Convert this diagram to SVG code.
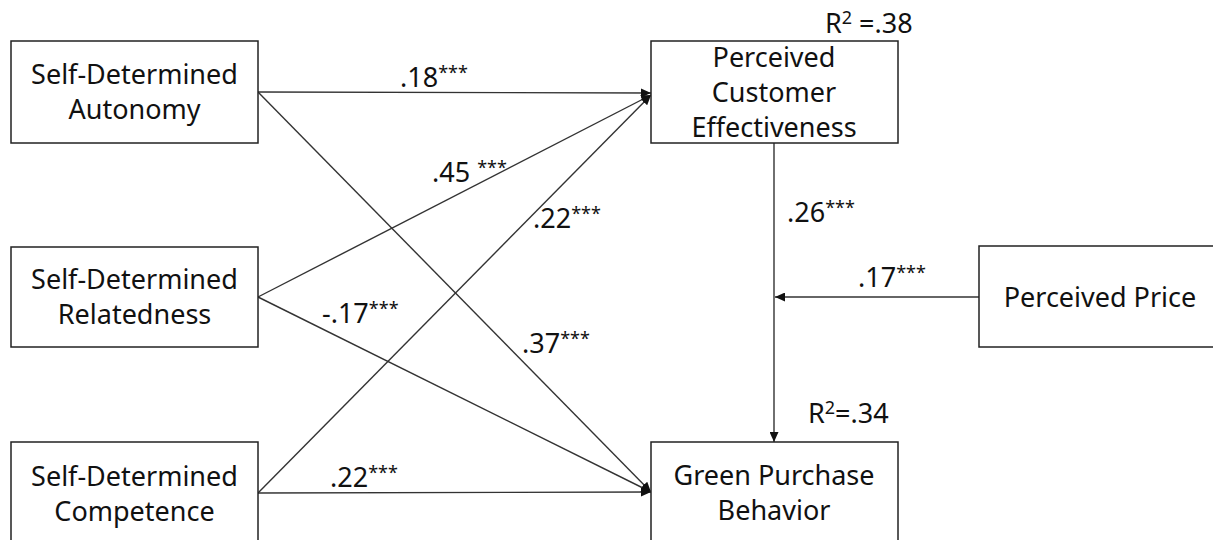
<svg xmlns="http://www.w3.org/2000/svg" width="1213" height="540" viewBox="0 0 1213 540">
<style>
.box{fill:#fff;stroke:#222;stroke-width:1.5}
.nt{font-family:"Noto Sans","Open Sans",sans-serif;font-size:27px;fill:#111;text-anchor:middle}
.lb{font-family:"Noto Sans","Open Sans",sans-serif;font-size:27px;fill:#111}
.st{font-size:18px}
.ln{stroke:#333;stroke-width:1.4;fill:none}
</style>
<defs>
<marker id="ah" markerUnits="userSpaceOnUse" markerWidth="11" markerHeight="9" refX="10" refY="4.5" orient="auto">
<path d="M0,0 L10,4.5 L0,9 Z" fill="#111"/>
</marker>
</defs>
<rect width="1213" height="540" fill="#fff"/>
<g id="connectors">
<line class="ln" x1="258" y1="92" x2="651" y2="93" marker-end="url(#ah)"/>
<line class="ln" x1="258" y1="92" x2="651" y2="492" marker-end="url(#ah)"/>
<line class="ln" x1="258" y1="297" x2="651" y2="95" marker-end="url(#ah)"/>
<line class="ln" x1="258" y1="297" x2="651" y2="492" marker-end="url(#ah)"/>
<line class="ln" x1="258" y1="493" x2="651" y2="95" marker-end="url(#ah)"/>
<line class="ln" x1="258" y1="493" x2="651" y2="492" marker-end="url(#ah)"/>
<line class="ln" x1="774" y1="143" x2="774" y2="442" marker-end="url(#ah)"/>
<line class="ln" x1="979" y1="297" x2="775" y2="297" marker-end="url(#ah)"/>
<text class="lb" x="400" y="87">.18<tspan class="st" dy="-8">***</tspan></text>
<text class="lb" x="432" y="182">.45 <tspan class="st" dy="-8">***</tspan></text>
<text class="lb" x="533" y="228">.22<tspan class="st" dy="-8">***</tspan></text>
<text class="lb" x="522" y="353">.37<tspan class="st" dy="-8">***</tspan></text>
<text class="lb" x="322" y="323">-.17<tspan class="st" dy="-8">***</tspan></text>
<text class="lb" x="330" y="487">.22<tspan class="st" dy="-8">***</tspan></text>
<text class="lb" x="787" y="222">.26<tspan class="st" dy="-8">***</tspan></text>
<text class="lb" x="858" y="287">.17<tspan class="st" dy="-8">***</tspan></text>
<text class="lb" x="825" y="33">R<tspan class="st" dy="-9">2</tspan><tspan dy="9"> =.38</tspan></text>
<text class="lb" x="808" y="423">R<tspan class="st" dy="-9">2</tspan><tspan dy="9">=.34</tspan></text>
</g>
<g id="autonomy">
<rect class="box" x="11" y="41" width="247" height="102"/>
<text class="nt" x="134.5" y="84">Self-Determined</text>
<text class="nt" x="134.5" y="119">Autonomy</text>
</g>
<g id="relatedness">
<rect class="box" x="11" y="247" width="247" height="100"/>
<text class="nt" x="134.5" y="289">Self-Determined</text>
<text class="nt" x="134.5" y="324">Relatedness</text>
</g>
<g id="competence">
<rect class="box" x="11" y="442" width="247" height="110"/>
<text class="nt" x="134.5" y="486">Self-Determined</text>
<text class="nt" x="134.5" y="521">Competence</text>
</g>
<g id="pce">
<rect class="box" x="651" y="41" width="247" height="102"/>
<text class="nt" x="774" y="67">Perceived</text>
<text class="nt" x="774" y="102">Customer</text>
<text class="nt" x="774" y="137">Effectiveness</text>
</g>
<g id="gpb">
<rect class="box" x="651" y="442" width="247" height="110"/>
<text class="nt" x="774" y="485">Green Purchase</text>
<text class="nt" x="774" y="520">Behavior</text>
</g>
<g id="price">
<rect class="box" x="979" y="246" width="250" height="101"/>
<text class="nt" x="1100" y="307">Perceived Price</text>
</g>
</svg>
